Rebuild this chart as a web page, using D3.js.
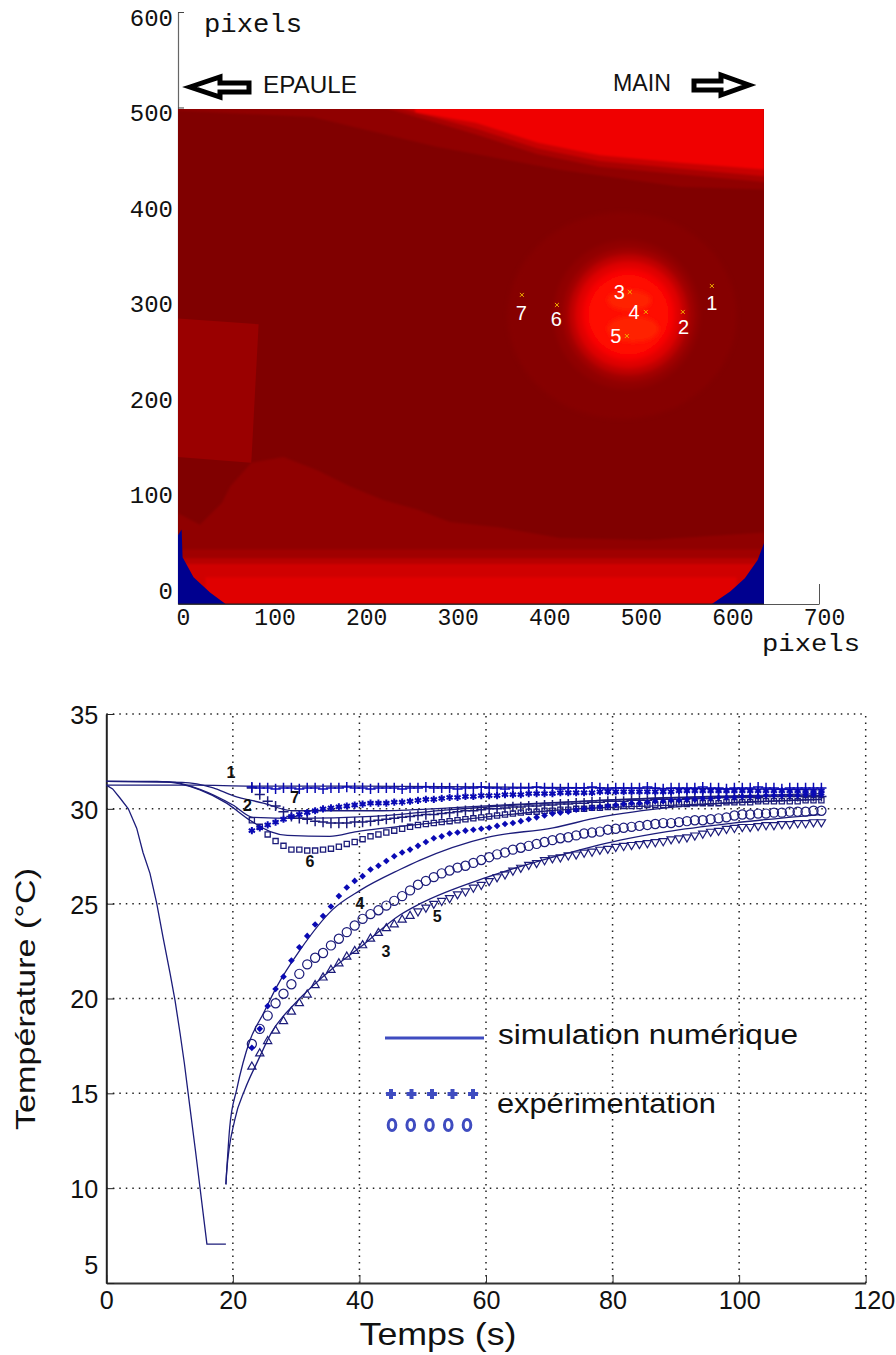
<!DOCTYPE html>
<html><head><meta charset="utf-8">
<script src="https://cdnjs.cloudflare.com/ajax/libs/d3/7.8.5/d3.min.js"></script>
<style>html,body{margin:0;padding:0;background:#fff}svg{display:block}</style>
</head><body><svg id="c" width="896" height="1355"></svg>
<script>
// ---------- thermogram (units: image pixels) ----------
const mapXTicks=[0,100,200,300,400,500,600,700];
const mapYTicks=[0,100,200,300,400,500,600];
const imageExtent=[640,-20,498.5];
const background="#800000";
const topDarkBand=[[0,500],[640,500],[640,414],[548,417],[415,435],[282,459],[147,490],[59,494],[0,497]];
const topMidBand=[[225,500],[640,500],[640,422],[548,430],[460,438],[393,451],[325,472]];
const topHighBand=[[240,500],[640,500],[640,428],[548,436],[460,444],[393,457],[325,478]];
const topHotBand=[[259,500],[640,500],[640,435],[548,442],[460,450],[393,463],[325,484],[259,495]];
const leftPatch=[[0,279],[88,273],[80,128],[0,134]];
const lowerRegion=[[0,75],[24,63],[48,86],[57,103],[80,128],[115,134],[152,120],[188,103],[224,89],[261,79],[297,66],[352,60],[417,49],[515,47],[640,55],[640,-20],[0,-20]];
const bottomBand1=[[0,37],[640,37],[640,-20],[0,-20]];
const bottomBand2=[[0,28],[640,28],[640,-20],[0,-20]];
const bottomBand3=[[0,22],[640,22],[640,-20],[0,-20]];
const bottomBand4=[[30,8],[610,8],[610,-20],[30,-20]];
const blueLeft=[[0,52],[4,58],[5,29],[17,8],[35,-8],[52,-20],[0,-20]];
const blueRight=[[640,44],[633,26],[619,7],[603,-7],[583,-20],[640,-20]];
const regionColors=["#900000","#a80000","#c80000","#f00000","#9a0000","#900000","#a00000","#b80000","#d00000","#e00000","#00008f","#00008f"];
const regions=[topDarkBand,topMidBand,topHighBand,topHotBand,leftPatch,lowerRegion,bottomBand1,bottomBand2,bottomBand3,bottomBand4,blueLeft,blueRight];
const ringCx=[485,490,492,492,492,492,492];
const ringCy=[282,283,283,283,283,283,283];
const ringRx=[125,80,72,65,58,50,44];
const ringRy=[108,78,70,63,56,48,42];
const ringColors=["#860000","#900000","#a00000","#c00000","#e00000","#f80000","#ff0800"];
const lobeCx=[493,497];
const lobeCy=[298,268];
const lobeRx=[24,28];
const lobeRy=[11,14];
const sensorNames=["1","2","3","4","5","6","7"];
const sensorX=[583,551.3,493.4,510.9,490.2,413.8,375.5];
const sensorY=[313.1,285.9,306.8,285.9,260.7,293.2,303.7];
const sensorLabelX=[583,552,482,498,478,413,375];
const sensorLabelY=[295,270,307,286,261,278,285];

// ---------- temperature curves ----------
const tempYTicks=[5,10,15,20,25,30,35];
const timeTicks=[0,20,40,60,80,100,120];
const simCoolT=[0,1,2.16,3.48,4.8,5.8,6.9,7.96,8.96,10.07,10.86,11.65,12.33,13.2,14.08,15.9,18.9];
const simCoolV=[31.25,31.05,30.57,30,28.98,27.7,26.6,25.03,23.24,21.34,19.9,18.18,16.6,14.3,12,7.05,7.05];
const sim1T=[0,8,14,23,40,60,80,100,113];
const sim1V=[31.25,31.25,31.25,31.2,31.2,31.15,31.1,31.05,31.0];
const simAT=[0,12,16.9,20,24.8,29.5,35.3,42.8,54.3,65.4,78,95,113];
const simAV=[31.45,31.4,31.1,30.7,30.3,29.9,29.9,29.9,30.05,30.25,30.45,30.65,30.8];
const simBT=[0,8,14.8,19,22.7,25.9,28.6,35.3,39.6,44.3,52.7,70,90,113];
const simBV=[31.45,31.45,31,30.3,29.4,28.8,28.6,28.55,28.8,29,29.3,29.9,30.2,30.5];
const simCT=[0,10,15,20,23.2,30,42,54,70,90,113];
const simCV=[31.45,31.42,31,30.2,29.55,29.5,29.6,29.95,30.3,30.6,30.7];
const simDT=[18.9,19.5,20.6,21.6,22.7,24.8,26.9,30.6,35.8,40.1,46.4,49.6,60.2,70.6,78,90,113];
const simDV=[10.2,13.2,15.2,16.6,17.8,19.2,20.6,22.55,24.7,25.7,26.8,27.3,28.5,29.0,29.56,30.1,30.5];
const simET=[18.9,19,20.3,21.9,24,26.1,30,35.8,40.1,46.4,49.6,60.2,70.6,81.2,88.6,99,112.8];
const simEV=[10.2,10.8,13.6,15.2,16.75,18.2,19.8,21.6,22.7,24.4,25,26.4,27.45,28.35,28.8,29.25,29.7];

const tExp=[23,24.25,25.5,26.75,28,29.25,30.5,31.75,33,34.25,35.5,36.75,38,39.25,40.5,41.75,43,44.25,45.5,46.75,48,49.25,50.5,51.75,53,54.25,55.5,56.75,58,59.25,60.5,61.75,63,64.25,65.5,66.75,68,69.25,70.5,71.75,73,74.25,75.5,76.75,78,79.25,80.5,81.75,83,84.25,85.5,86.75,88,89.25,90.5,91.75,93,94.25,95.5,96.75,98,99.25,100.5,101.75,103,104.25,105.5,106.75,108,109.25,110.5,111.75,113];
const exp1=[31.15,31.1,31.1,31.05,31.1,31.1,31.05,31.1,31.1,31.05,31.1,31.1,31.15,31.1,31.1,31.05,31.1,31.1,31.1,31.05,31.1,31.1,31.15,31.1,31.1,31.1,31.05,31.1,31.1,31.15,31.1,31.1,31.05,31.1,31.1,31.1,31.15,31.1,31.1,31.05,31.1,31.1,31.1,31.15,31.1,31.05,31.1,31.1,31.1,31.1,31.15,31.1,31.05,31.1,31.1,31.1,31.1,31.15,31.1,31.1,31.05,31.1,31.1,31.1,31.15,31.1,31.1,31.05,31.1,31.1,31.1,31.1,31.1];
const exp2=[31.1,30.75,30.4,30.15,29.85,29.6,29.5,29.45,29.35,29.3,29.25,29.25,29.25,29.3,29.3,29.35,29.4,29.45,29.5,29.55,29.6,29.65,29.7,29.7,29.75,29.8,29.85,29.9,29.9,29.95,30,30,30.05,30.1,30.1,30.15,30.15,30.2,30.2,30.25,30.25,30.3,30.3,30.35,30.35,30.4,30.4,30.4,30.45,30.45,30.45,30.5,30.5,30.5,30.5,30.55,30.55,30.55,30.55,30.6,30.6,30.6,30.6,30.6,30.6,30.65,30.65,30.65,30.65,30.65,30.65,30.65,30.65];
const exp7=[28.85,29,29.15,29.3,29.45,29.6,29.7,29.8,29.9,30,30.05,30.1,30.15,30.2,30.25,30.3,30.3,30.3,30.35,30.35,30.4,30.45,30.5,30.5,30.55,30.6,30.6,30.65,30.65,30.7,30.7,30.7,30.75,30.75,30.75,30.8,30.8,30.8,30.8,30.85,30.85,30.85,30.85,30.85,30.9,30.9,30.9,30.9,30.9,30.9,30.9,30.9,30.9,30.9,30.95,30.95,30.95,30.95,30.95,30.95,30.95,30.95,30.95,30.95,30.95,30.95,30.95,30.95,30.95,30.95,30.95,30.95,30.95];
const exp6=[29.4,29.05,28.65,28.3,28.05,27.85,27.85,27.8,27.8,27.85,27.9,28,28.15,28.25,28.4,28.55,28.65,28.75,28.85,28.95,29.05,29.15,29.2,29.25,29.3,29.35,29.4,29.45,29.5,29.55,29.6,29.65,29.7,29.75,29.8,29.85,29.85,29.9,29.9,29.95,29.95,30,30,30.05,30.05,30.1,30.1,30.15,30.15,30.15,30.2,30.2,30.2,30.25,30.25,30.25,30.3,30.3,30.3,30.3,30.35,30.35,30.35,30.35,30.4,30.4,30.4,30.4,30.4,30.4,30.45,30.45,30.45];
const exp4=[17.4,18.4,19.6,20.5,21.15,22,22.7,23.3,23.9,24.35,24.85,25.4,25.85,26.2,26.45,26.8,27,27.25,27.5,27.7,27.85,28.05,28.25,28.45,28.55,28.7,28.75,28.85,28.9,28.95,29,29.1,29.2,29.25,29.35,29.45,29.55,29.65,29.75,29.8,29.85,29.95,30,30.05,30.1,30.15,30.2,30.25,30.3,30.3,30.35,30.4,30.4,30.45,30.45,30.5,30.5,30.55,30.55,30.6,30.6,30.6,30.65,30.65,30.65,30.7,30.7,30.7,30.7,30.7,30.75,30.75,30.75];
const exp5=[17.6,18.4,19.1,19.75,20.25,20.75,21.3,21.8,22.15,22.4,22.8,23.15,23.5,23.85,24.2,24.45,24.65,24.9,25.15,25.4,25.7,26,26.2,26.4,26.6,26.75,26.9,27,27.15,27.3,27.45,27.6,27.7,27.85,27.95,28.05,28.15,28.25,28.35,28.45,28.5,28.6,28.7,28.75,28.8,28.9,28.95,29,29.05,29.1,29.15,29.2,29.25,29.25,29.3,29.35,29.4,29.4,29.45,29.5,29.55,29.65,29.7,29.7,29.75,29.75,29.8,29.8,29.85,29.85,29.85,29.9,29.9];
const exp3=[16.4,17.1,17.75,18.3,18.8,19.3,19.75,20.2,20.7,21.1,21.5,21.85,22.2,22.5,22.8,23.15,23.45,23.7,23.9,24.15,24.35,24.6,24.8,25,25.15,25.3,25.5,25.65,25.85,26,26.2,26.4,26.55,26.75,26.9,27.05,27.15,27.3,27.4,27.45,27.55,27.6,27.7,27.75,27.85,27.9,28,28.05,28.1,28.15,28.2,28.25,28.3,28.4,28.45,28.5,28.6,28.7,28.8,28.85,28.95,29,29.05,29.05,29.1,29.15,29.15,29.2,29.2,29.25,29.25,29.3,29.3];
const curveNames=["1","2","7","6","4","5","3"];
const curveLabelT=[19.7,22.3,29.8,32.2,40.1,52.3,44.2];
const curveLabelV=[31.9,30.2,30.6,27.2,25.0,24.3,22.5];
const legendSim="simulation numérique";
const legendExp="expérimentation";
const legendSlots=[0,1,2,3,4];

const svg=d3.select("#c");
const sans="'Liberation Sans',Arial,sans-serif", mono="'Liberation Mono',monospace";

// ---- thermogram ----
const mx=d3.scaleLinear().domain([0,700]).range([178,819]);
const my=d3.scaleLinear().domain([-20,600]).range([604,12]);
const poly=d3.line().x(d=>mx(d[0])).y(d=>my(d[1]));
const mapAxes=svg.append("g");
const xa=mapAxes.append("g").attr("transform","translate(0,604)").call(d3.axisBottom(mx).tickValues(mapXTicks).tickSize(-5).tickSizeOuter(0).tickPadding(0));
xa.select(".domain").attr("stroke","#555");
xa.selectAll("line").attr("stroke",d=>d===700?"#555":"none").attr("y2",-20);
xa.selectAll("text").attr("font-family",mono).attr("font-size",23).attr("fill","#111").attr("dx",5).attr("dy",0).attr("y",21);
const ya=mapAxes.append("g").attr("transform","translate(178,0)").call(d3.axisLeft(my).tickValues(mapYTicks).tickSize(-6).tickSizeOuter(0).tickPadding(5));
ya.select(".domain").attr("stroke","#666").attr("stroke-width",1.2);
ya.selectAll("line").attr("stroke",d=>d>=500?"#444":"none");
ya.selectAll("text").attr("font-family",mono).attr("font-size",24).attr("fill","#111").attr("dy","0.55em");

const img=svg.append("g");
const clipId="imgClip";
svg.append("defs").html(`<clipPath id="${clipId}"><rect x="${mx(0)}" y="${my(imageExtent[2])}" width="${mx(imageExtent[0])-mx(0)}" height="${my(imageExtent[1])-my(imageExtent[2])}"/></clipPath>
<filter id="soft" x="-20%" y="-20%" width="140%" height="140%"><feGaussianBlur stdDeviation="2.2"/></filter>
<filter id="soft2" x="-20%" y="-20%" width="140%" height="140%"><feGaussianBlur stdDeviation="0.9"/></filter>`);
img.attr("clip-path",`url(#${clipId})`);
img.append("path").attr("d",poly([[0,imageExtent[2]],[imageExtent[0],imageExtent[2]],[imageExtent[0],imageExtent[1]],[0,imageExtent[1]]])+"Z").attr("fill",background);
img.append("g").selectAll("path").data(regions.slice(0,10)).join("path").attr("d",d=>poly(d)+"Z").attr("fill",(d,i)=>regionColors[i]).attr("filter",(d,i)=>i===4?null:"url(#soft2)");
const k=Math.abs(mx(1)-mx(0)), kv=Math.abs(my(1)-my(0));
img.append("g").attr("filter","url(#soft)").selectAll("ellipse").data(ringCx).join("ellipse")
  .attr("cx",d=>mx(d)).attr("cy",(d,i)=>my(ringCy[i])).attr("rx",(d,i)=>ringRx[i]*k).attr("ry",(d,i)=>ringRy[i]*kv).attr("fill",(d,i)=>ringColors[i]);
img.append("g").attr("filter","url(#soft)").selectAll("ellipse").data(lobeCx).join("ellipse")
  .attr("cx",d=>mx(d)).attr("cy",(d,i)=>my(lobeCy[i])).attr("rx",(d,i)=>lobeRx[i]*k).attr("ry",(d,i)=>lobeRy[i]*kv).attr("fill","#ff2400");
img.append("g").selectAll("path").data(regions.slice(10)).join("path").attr("d",d=>poly(d)+"Z").attr("fill",(d,i)=>regionColors[10+i]);
svg.append("line").attr("x1",mx(0)).attr("x2",mx(640)).attr("y1",604).attr("y2",604).attr("stroke","#222").attr("stroke-width",1.2);
svg.append("g").selectAll("path").data(sensorX).join("path")
  .attr("transform",(d,i)=>`translate(${mx(d)},${my(sensorY[i])})`).attr("d",d3.symbol(d3.symbolTimes,12)).attr("fill","none").attr("stroke","#f0b000").attr("stroke-width",1);
svg.append("g").selectAll("text").data(sensorNames).join("text").text(d=>d)
  .attr("x",(d,i)=>mx(sensorLabelX[i])).attr("y",(d,i)=>my(sensorLabelY[i])).attr("text-anchor","middle").attr("dominant-baseline","central")
  .attr("font-family",sans).attr("font-size",20).attr("fill","#fff");

svg.append("text").text("pixels").attr("x",204).attr("y",32).attr("font-family",mono).attr("font-size",26).attr("textLength",98).attr("lengthAdjust","spacingAndGlyphs").attr("fill","#111");
svg.append("text").text("pixels").attr("x",762).attr("y",651).attr("font-family",mono).attr("font-size",23).attr("textLength",98).attr("lengthAdjust","spacingAndGlyphs").attr("fill","#111");
svg.append("text").text("EPAULE").attr("x",263).attr("y",93).attr("font-family",sans).attr("font-size",23).attr("textLength",94).attr("lengthAdjust","spacingAndGlyphs").attr("fill","#111");
svg.append("text").text("MAIN").attr("x",613).attr("y",91).attr("font-family",sans).attr("font-size",23).attr("textLength",58).attr("lengthAdjust","spacingAndGlyphs").attr("fill","#111");
const arrow=d3.line();
svg.append("path").attr("d",arrow([[190,87],[220,77],[220,83],[249,83],[249,92],[220,92],[220,97]])+"Z").attr("fill","#fff").attr("stroke","#000").attr("stroke-width",5).attr("stroke-linejoin","miter");
svg.append("path").attr("d",arrow([[749,85],[721,75],[721,81],[694,81],[694,90],[721,90],[721,95]])+"Z").attr("fill","#fff").attr("stroke","#000").attr("stroke-width",5).attr("stroke-linejoin","miter");

// ---- temperature plot ----
const x=d3.scaleLinear().domain([0,120]).range([106.3,865.7]);
const y=d3.scaleLinear().domain([5,35]).range([1283,714]);
const grid=svg.append("g").attr("stroke","#222").attr("stroke-width",1.5).attr("stroke-dasharray","1.5 5");
grid.selectAll("line.h").data(tempYTicks.slice(1)).join("line").attr("class","h").attr("x1",x(0)).attr("x2",x(120)).attr("y1",d=>y(d)).attr("y2",d=>y(d));
grid.selectAll("line.v").data(timeTicks.slice(1)).join("line").attr("class","v").attr("y1",y(5)).attr("y2",y(35)).attr("x1",d=>x(d)).attr("x2",d=>x(d));
const ax=svg.append("g").attr("transform",`translate(0,${y(5)})`).call(d3.axisBottom(x).tickValues(timeTicks).tickSize(-8).tickSizeOuter(0).tickPadding(8));
ax.select(".domain").attr("stroke","#333").attr("stroke-width",2);
ax.selectAll("line").attr("stroke","#333");
ax.selectAll("text").attr("font-family",sans).attr("font-size",26).attr("fill","#111").attr("dx",d=>d===120?8:0).attr("textLength",d=>d>=100?42:(d===0?14:28)).attr("lengthAdjust","spacingAndGlyphs");
const ay=svg.append("g").attr("transform",`translate(${x(0)},0)`).call(d3.axisLeft(y).tickValues(tempYTicks).tickSize(-8).tickSizeOuter(0).tickPadding(8));
ay.select(".domain").attr("stroke","#222").attr("stroke-width",2);
ay.selectAll("line").attr("stroke","#222");
ay.selectAll("text").attr("font-family",sans).attr("font-size",26).attr("fill","#111").attr("dy",d=>d===5?"-0.35em":"0.36em").attr("textLength",d=>d===5?14:28).attr("lengthAdjust","spacingAndGlyphs");
svg.append("text").text("Temps (s)").attr("x",438).attr("y",1345).attr("text-anchor","middle").attr("font-family",sans).attr("font-size",32).attr("textLength",157).attr("lengthAdjust","spacingAndGlyphs").attr("fill","#111");
svg.append("text").text("Température (°C)").attr("transform","translate(35,999) rotate(-90)").attr("text-anchor","middle").attr("font-family",sans).attr("font-size",27).attr("textLength",262).attr("lengthAdjust","spacingAndGlyphs").attr("fill","#111");

const lineSmooth=d3.line().x(d=>x(d[0])).y(d=>y(d[1])).curve(d3.curveMonotoneX);
const lineStraight=d3.line().x(d=>x(d[0])).y(d=>y(d[1]));
const zip=(a,b)=>a.map((t,i)=>[t,b[i]]);
const sims=[zip(sim1T,sim1V),zip(simAT,simAV),zip(simBT,simBV),zip(simCT,simCV),zip(simDT,simDV),zip(simET,simEV)];
const navy="#1c1c7a", blue="#0a0ab4";
svg.append("g").selectAll("path").data(sims).join("path").attr("d",lineSmooth).attr("fill","none").attr("stroke",navy).attr("stroke-width",1.3);
svg.append("path").attr("d",lineStraight(zip(simCoolT,simCoolV))).attr("fill","none").attr("stroke",navy).attr("stroke-width",1.3);

function markers(vals,sym,size,opts){
  svg.append("g").selectAll("path").data(vals).join("path")
   .attr("transform",(d,i)=>`translate(${x(tExp[i])},${y(d)})`+(opts.flip&&tExp[i]>opts.flip?" rotate(180)":"")+(opts.rot?` rotate(${opts.rot})`:""))
   .attr("d",d3.symbol(sym,size))
   .attr("fill",opts.fill||"none").attr("stroke",opts.stroke||"none").attr("stroke-width",opts.w||1);
}
markers(exp3,d3.symbolTriangle2,48,{stroke:navy,w:1.2,flip:48});
markers(exp5,d3.symbolCircle,66,{stroke:navy,w:1.2});
markers(exp6,d3.symbolSquare2,34,{stroke:navy,w:1.3});
markers(exp2,d3.symbolPlus,36,{stroke:navy,w:1.5});
markers(exp1,d3.symbolPlus,36,{stroke:blue,w:1.5});
markers(exp7,d3.symbolAsterisk,36,{stroke:blue,w:2});
markers(exp4,d3.symbolSquare,22,{fill:blue,rot:45});

svg.append("g").selectAll("text").data(curveNames).join("text").text(d=>d)
  .attr("x",(d,i)=>x(curveLabelT[i])).attr("y",(d,i)=>y(curveLabelV[i])).attr("text-anchor","middle").attr("dominant-baseline","central")
  .attr("font-family",sans).attr("font-weight","bold").attr("font-size",16).attr("fill","#111");

// legend
const legendColor="#3f4cc0";
svg.append("line").attr("x1",385).attr("x2",484).attr("y1",1038).attr("y2",1038).attr("stroke",legendColor).attr("stroke-width",3.2);
svg.append("text").text(legendSim).attr("x",498).attr("y",1044).attr("font-family",sans).attr("font-size",27).attr("textLength",300).attr("lengthAdjust","spacingAndGlyphs").attr("fill","#111");
svg.append("text").text(legendExp).attr("x",497).attr("y",1113).attr("font-family",sans).attr("font-size",27).attr("textLength",219).attr("lengthAdjust","spacingAndGlyphs").attr("fill","#111");
const lx=d3.scaleLinear().domain([0,4]).range([391,473]);
const ox=d3.scaleLinear().domain([0,4]).range([392,467]);
svg.append("g").selectAll("path").data(legendSlots).join("path").attr("transform",d=>`translate(${lx(d)},1094)`).attr("d",d3.symbol(d3.symbolPlus,34)).attr("fill","none").attr("stroke",legendColor).attr("stroke-width",4);
svg.append("g").selectAll("ellipse").data(legendSlots).join("ellipse").attr("cx",d=>ox(d)).attr("cy",1125).attr("rx",3.8).attr("ry",5.6).attr("fill","none").attr("stroke",legendColor).attr("stroke-width",3);
</script></body></html>
